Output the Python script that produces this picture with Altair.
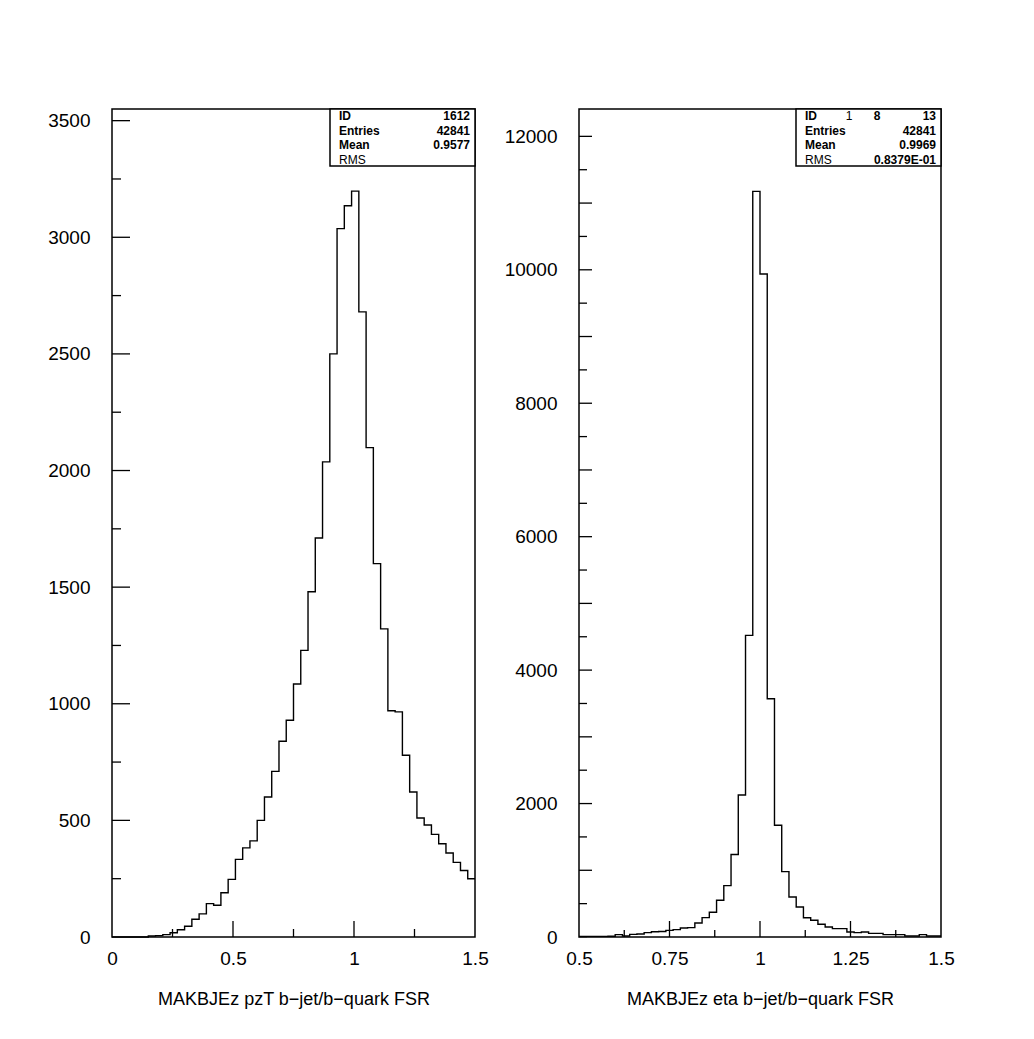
import altair as alt
import pandas as pd

# ---------------- data ----------------
# Left: MAKBJEz pzT b-jet/b-quark FSR, 50 bins from 0 to 1.5
left_lo, left_hi, left_bw = 0.0, 1.5, 0.03
left_counts = [0, 0, 0, 0, 0, 4, 6, 10, 18, 31,
               46, 76, 99, 143, 136, 190, 247, 333, 382, 412,
               500, 600, 710, 839, 929, 1085, 1229, 1480, 1711, 2037,
               2500, 3037, 3135, 3198, 2680, 2098, 1601, 1321, 970, 965,
               779, 622, 510, 480, 440, 400, 360, 320, 285, 250]

# Right: MAKBJEz eta b-jet/b-quark FSR, 50 bins from 0.5 to 1.5
right_lo, right_hi, right_bw = 0.5, 1.5, 0.02
right_counts = [8, 9, 10, 10, 12, 35, 15, 40, 45, 65,
                78, 82, 100, 110, 135, 140, 210, 290, 370, 550,
                770, 1237, 2128, 4521, 11175, 9936, 3571, 1674, 980, 600,
                450, 288, 250, 190, 150, 125, 125, 75, 65, 75,
                55, 55, 35, 35, 35, 15, 15, 35, 15, 15]

left_ymax = 3550
right_ymax = 12410

left_ylabels = [0, 500, 1000, 1500, 2000, 2500, 3000, 3500]
right_ylabels = [0, 2000, 4000, 6000, 8000, 10000, 12000]
left_xlabels = [0, 0.5, 1, 1.5]
right_xlabels = [0.5, 0.75, 1, 1.25, 1.5]

left_ytick_major = [500, 1000, 1500, 2000, 2500, 3000, 3500]
left_ytick_minor = [250, 750, 1250, 1750, 2250, 2750, 3250]
right_ytick_major = [1000, 2000, 3000, 4000, 5000, 6000, 7000, 8000, 9000, 10000, 11000, 12000]
right_ytick_minor = [500, 1500, 2500, 3500, 4500, 5500, 6500, 7500, 8500, 9500, 10500, 11500]
left_xtick_major = [0.5, 1.0]
left_xtick_minor = [0.25, 0.75, 1.25]
right_xtick_major = [0.75, 1.0, 1.25]
right_xtick_minor = [0.625, 0.875, 1.125, 1.375]

left_title = "MAKBJEz pzT b\u2212jet/b\u2212quark FSR"
right_title = "MAKBJEz eta b\u2212jet/b\u2212quark FSR"

left_stats_labels = ["ID", "Entries", "Mean", "RMS"]
left_stats_values = ["1612", "42841", "0.9577", ""]
right_stats_labels = ["ID", "Entries", "Mean", "RMS"]
right_stats_values = ["13", "42841", "0.9969", "0.8379E-01"]
right_id_extra = ["1", "8"]

W_L, W_R, H = 363, 362, 828
FONT = "Liberation Sans"
NARROW = "Liberation Sans Narrow, Liberation Sans"


def step_frame(lo, bw, counts):
    xs = [lo + i * bw for i in range(len(counts))] + [lo + len(counts) * bw]
    ys = list(counts) + [counts[-1]]
    return pd.DataFrame({"x": xs, "count": ys})


def panel(lo, hi, bw, counts, ymax, ylabels, xlabels, title,
          ymaj, ymin, ymaj_len, ymin_len, xmaj, xmin, xmaj_len, xmin_len,
          stat_labels, stat_values, width, extra=None, box_x=218):
    xs = alt.Scale(domain=[lo, hi], nice=False, zero=False)
    ys = alt.Scale(domain=[0, ymax], nice=False)
    x_axis = alt.Axis(values=xlabels, title=title, labelFlush=False,
                      labelPadding=12, titlePadding=22, tickSize=0,
                      labelExpr="'' + datum.value")
    y_axis = alt.Axis(values=ylabels, title=None, labelFlush=False,
                      labelPadding=22, tickSize=0, format="d")
    hist = alt.Chart(step_frame(lo, bw, counts)).mark_line(
        interpolate="step-after", color="black", strokeWidth=1.4
    ).encode(
        x=alt.X("x:Q", scale=xs, axis=x_axis),
        y=alt.Y("count:Q", scale=ys, axis=y_axis),
    )
    layers = [hist]
    for vals, ln in ((ymaj, ymaj_len), (ymin, ymin_len)):
        layers.append(alt.Chart(pd.DataFrame({"count": vals})).mark_rule(color="black", strokeWidth=1.3).encode(
            y=alt.Y("count:Q", scale=ys, axis=y_axis), x=alt.value(0), x2=alt.value(ln)))
    for vals, ln in ((xmaj, xmaj_len), (xmin, xmin_len)):
        layers.append(alt.Chart(pd.DataFrame({"x": vals})).mark_rule(color="black", strokeWidth=1.3).encode(
            x=alt.X("x:Q", scale=xs, axis=x_axis), y=alt.value(H), y2=alt.value(H - ln)))
    # statistics box
    layers.append(alt.Chart(pd.DataFrame({"a": [0]})).mark_rect(
        fill="white", stroke="black", strokeWidth=1.5).encode(
        x=alt.value(box_x), x2=alt.value(width), y=alt.value(0), y2=alt.value(57)))
    row_y = [7, 21.5, 36, 51]
    for i, (lab, val) in enumerate(zip(stat_labels, stat_values)):
        weight = "normal" if lab == "RMS" else "bold"
        layers.append(alt.Chart(pd.DataFrame({"t": [lab]})).mark_text(
            align="left", baseline="middle", font=NARROW, fontSize=12, fontWeight=weight, color="black"
        ).encode(x=alt.value(box_x + 9), y=alt.value(row_y[i]), text="t:N"))
        if val:
            layers.append(alt.Chart(pd.DataFrame({"t": [val]})).mark_text(
                align="right", baseline="middle", font=NARROW, fontSize=12, fontWeight="bold", color="black"
            ).encode(x=alt.value(width - 5), y=alt.value(row_y[i]), text="t:N"))
    if extra:
        for txt, px in zip(extra, (270, 298)):
            layers.append(alt.Chart(pd.DataFrame({"t": [txt]})).mark_text(
                align="center", baseline="middle", font=NARROW, fontSize=12,
                fontWeight="bold" if txt == "8" else "normal", color="black"
            ).encode(x=alt.value(px), y=alt.value(row_y[0]), text="t:N"))
    return alt.layer(*layers).properties(width=width, height=H)


left = panel(left_lo, left_hi, left_bw, left_counts, left_ymax, left_ylabels, left_xlabels, left_title,
             left_ytick_major, left_ytick_minor, 18, 9, left_xtick_major, left_xtick_minor, 16, 8,
             left_stats_labels, left_stats_values, W_L)
right = panel(right_lo, right_hi, right_bw, right_counts, right_ymax, right_ylabels, right_xlabels, right_title,
              right_ytick_major, right_ytick_minor, 13, 8, right_xtick_major, right_xtick_minor, 16, 7,
              right_stats_labels, right_stats_values, W_R, extra=right_id_extra, box_x=217)

chart = alt.hconcat(left, right, spacing=104, bounds="flush").properties(
    padding={"left": 38, "top": 99, "right": 5, "bottom": 5},
    background="white",
).configure_view(
    stroke="black", strokeWidth=1.5
).configure_axis(
    domain=False, ticks=False, grid=False,
    labelFont=FONT, labelFontSize=19, labelColor="black",
    titleFont=FONT, titleFontSize=18, titleFontWeight="normal", titleColor="black",
)

chart.save("out.html", embed_options={"renderer": "svg", "actions": False})
